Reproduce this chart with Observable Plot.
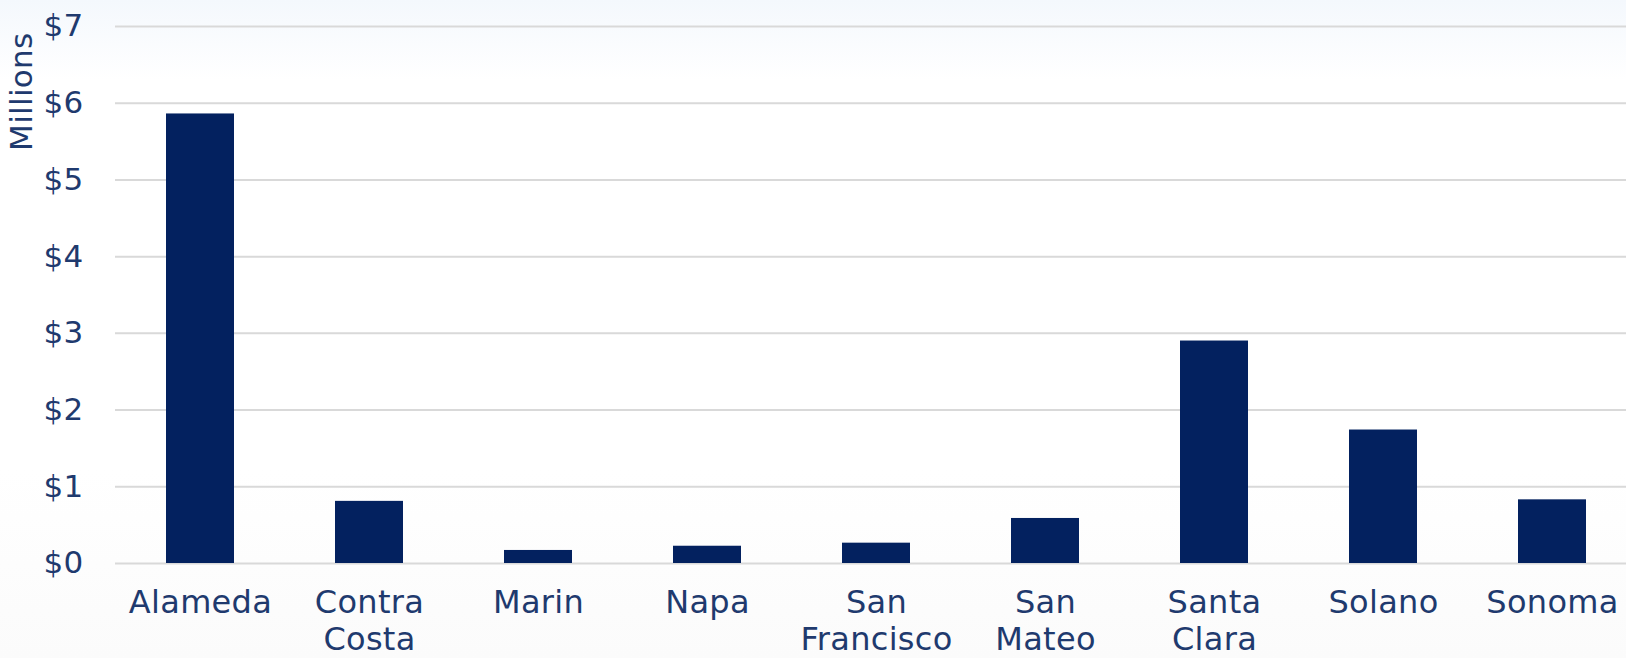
<!DOCTYPE html>
<html><head><meta charset="utf-8">
<script src="https://cdn.jsdelivr.net/npm/d3@7"></script>
<script src="https://cdn.jsdelivr.net/npm/@observablehq/plot@0.6"></script>
<style>
html,body{margin:0;padding:0;overflow:hidden;width:1626px;height:658px;}
body{background:linear-gradient(to bottom,#f4f8fd 0px,#ffffff 80px,#ffffff 470px,#fbfbfb 658px);}
#chart svg{display:block;}
</style></head><body><div id="chart"></div>
<script>
const counties = ["Alameda", "Contra Costa", "Marin", "Napa", "San Francisco", "San Mateo", "Santa Clara", "Solano", "Sonoma"];
const values = [5.86, 0.81, 0.17, 0.225, 0.265, 0.587, 2.90, 1.74, 0.83];
const yTicks = [0, 1, 2, 3, 4, 5, 6, 7];
const axisTitle = "Millions";

const data = counties.map((c, i) => ({county: c, value: values[i]}));
const font = "DejaVu Sans";
const ink = "#1f3a6e";

const plot = Plot.plot({
  width: 1626, height: 658,
  marginLeft: 115, marginRight: -10, marginTop: 26, marginBottom: 95,
  style: {fontFamily: font, fontSize: "31px", color: ink, background: "transparent", overflow: "hidden", maxWidth: "none", letterSpacing: "0.3px"},
  x: {domain: counties, paddingInner: 0.6, paddingOuter: 0.3, label: null},
  y: {domain: [0, 7], label: null},
  marks: [
    Plot.ruleY(yTicks, {stroke: "#d9d9d9", strokeWidth: 2}),
    Plot.barY(data, {x: "county", y: "value", fill: "#03215f"}),
    Plot.axisY(yTicks, {tickSize: 0, tickPadding: 32, tickFormat: d => "$" + d, fill: ink, fontSize: 31, label: null}),
    Plot.axisX({tickSize: 0, tickPadding: 24, tickFormat: d => d.replace(" ", "\n"), lineHeight: 1.14, fill: ink, fontSize: 32, label: null}),
    Plot.text([axisTitle], {frameAnchor: "top-left", rotate: -90, textAnchor: "end", lineAnchor: "middle", dx: -93, dy: 6, fill: ink, fontSize: 31})
  ]
});
document.getElementById("chart").appendChild(plot);
</script>
</body></html>
